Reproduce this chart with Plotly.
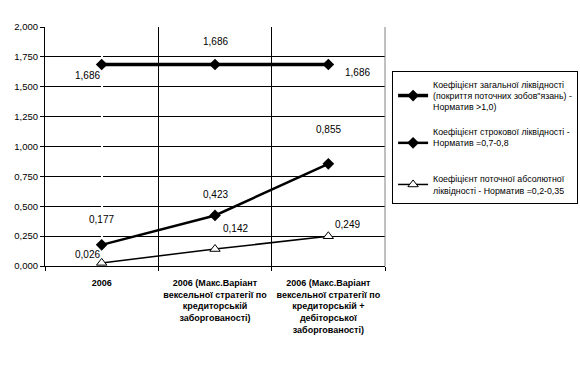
import plotly.graph_objects as go

categories = [
    "2006",
    "2006 (Макс.Варіант<br>вексельної стратегії по<br>кредиторській<br>заборгованості)",
    "2006 (Макс.Варіант<br>вексельної стратегії по<br>кредиторській +<br>дебіторської<br>заборгованості)",
]
s1_name = "Коефіцієнт загальної ліквідності<br>(покриття поточних зобов\"язань) -<br>Норматив >1,0)"
s2_name = "Коефіцієнт строкової ліквідності -<br>Норматив =0,7-0,8<br> "
s3_name = "Коефіцієнт поточної абсолютної<br>ліквідності - Норматив =0,2-0,35"
s1 = [1.686, 1.686, 1.686]
s2 = [0.177, 0.423, 0.855]
s3 = [0.026, 0.142, 0.249]
yticks = [0, 0.25, 0.5, 0.75, 1.0, 1.25, 1.5, 1.75, 2.0]

FONT = "Liberation Sans, Arial, sans-serif"
x = list(range(len(categories)))

fig = go.Figure()
fig.add_trace(go.Scatter(x=x, y=s1, name=s1_name, mode="lines+markers", legendgroup="a",
                         line=dict(color="black", width=3.5),
                         marker=dict(symbol="diamond", size=9, color="black")))
fig.add_trace(go.Scatter(x=x, y=s2, name=s2_name, mode="lines+markers", legendgroup="b",
                         line=dict(color="black", width=2.5),
                         marker=dict(symbol="diamond", size=9, color="black")))
fig.add_trace(go.Scatter(x=x, y=s3, name=s3_name, mode="lines+markers", legendgroup="c",
                         line=dict(color="black", width=1.5),
                         marker=dict(symbol="triangle-up", size=9, color="white",
                                     line=dict(color="black", width=1))))

def fmt(v):
    return f"{v:.3f}".replace(".", ",")

shifts1 = [(-14, -11), (0, 23), (29, -8)]
shifts2 = [(0, 25), (0, 21), (0, 34)]
shifts3 = [(-14, 8), (20, 21), (19, 12)]
for series, shifts in ((s1, shifts1), (s2, shifts2), (s3, shifts3)):
    for xi, (v, (dx, dy)) in enumerate(zip(series, shifts)):
        fig.add_annotation(x=xi, y=v, text=fmt(v), showarrow=False,
                           xshift=dx, yshift=dy,
                           font=dict(family=FONT, size=10, color="black"))

fig.update_layout(
    width=580, height=377,
    margin=dict(l=45, r=195, t=27, b=111, autoexpand=False),
    paper_bgcolor="white", plot_bgcolor="white",
    separators=", ",
    showlegend=True,
    legend=dict(x=0.676, y=0.812, xref="container", yref="container",
                xanchor="left", yanchor="top",
                bordercolor="black", borderwidth=1,
                font=dict(family=FONT, size=8.8, color="black"),
                tracegroupgap=10, itemwidth=30),
    font=dict(family=FONT, color="black"),
)
fig.update_xaxes(
    range=[-0.5, 2.5], tickvals=x, ticktext=[f"<b>{c}</b>" for c in categories],
    ticks="", showgrid=False, ticklabelstandoff=8,
    minor=dict(tickvals=[-0.5, 0.5, 1.5, 2.5], showgrid=True, gridcolor="black",
               gridwidth=1, ticks="outside", ticklen=4, tickcolor="black"),
    showline=True, linecolor="black", linewidth=1, mirror=False,
    tickfont=dict(family=FONT, size=9, color="black"),
    tickangle=0,
)
fig.update_yaxes(
    range=[0, 2.0], tickvals=yticks, tickformat=".3f",
    showgrid=True, gridcolor="black", gridwidth=1,
    ticks="outside", ticklen=4, tickcolor="black",
    showline=True, linecolor="black", linewidth=1,
    tickfont=dict(family=FONT, size=9.5, color="black"),
    tickprefix="<b>", ticksuffix="</b>",
)
fig.add_shape(type="line", xref="paper", yref="paper", x0=1, x1=1, y0=0, y1=1,
              line=dict(color="gray", width=1))
fig.write_html("out.html")
